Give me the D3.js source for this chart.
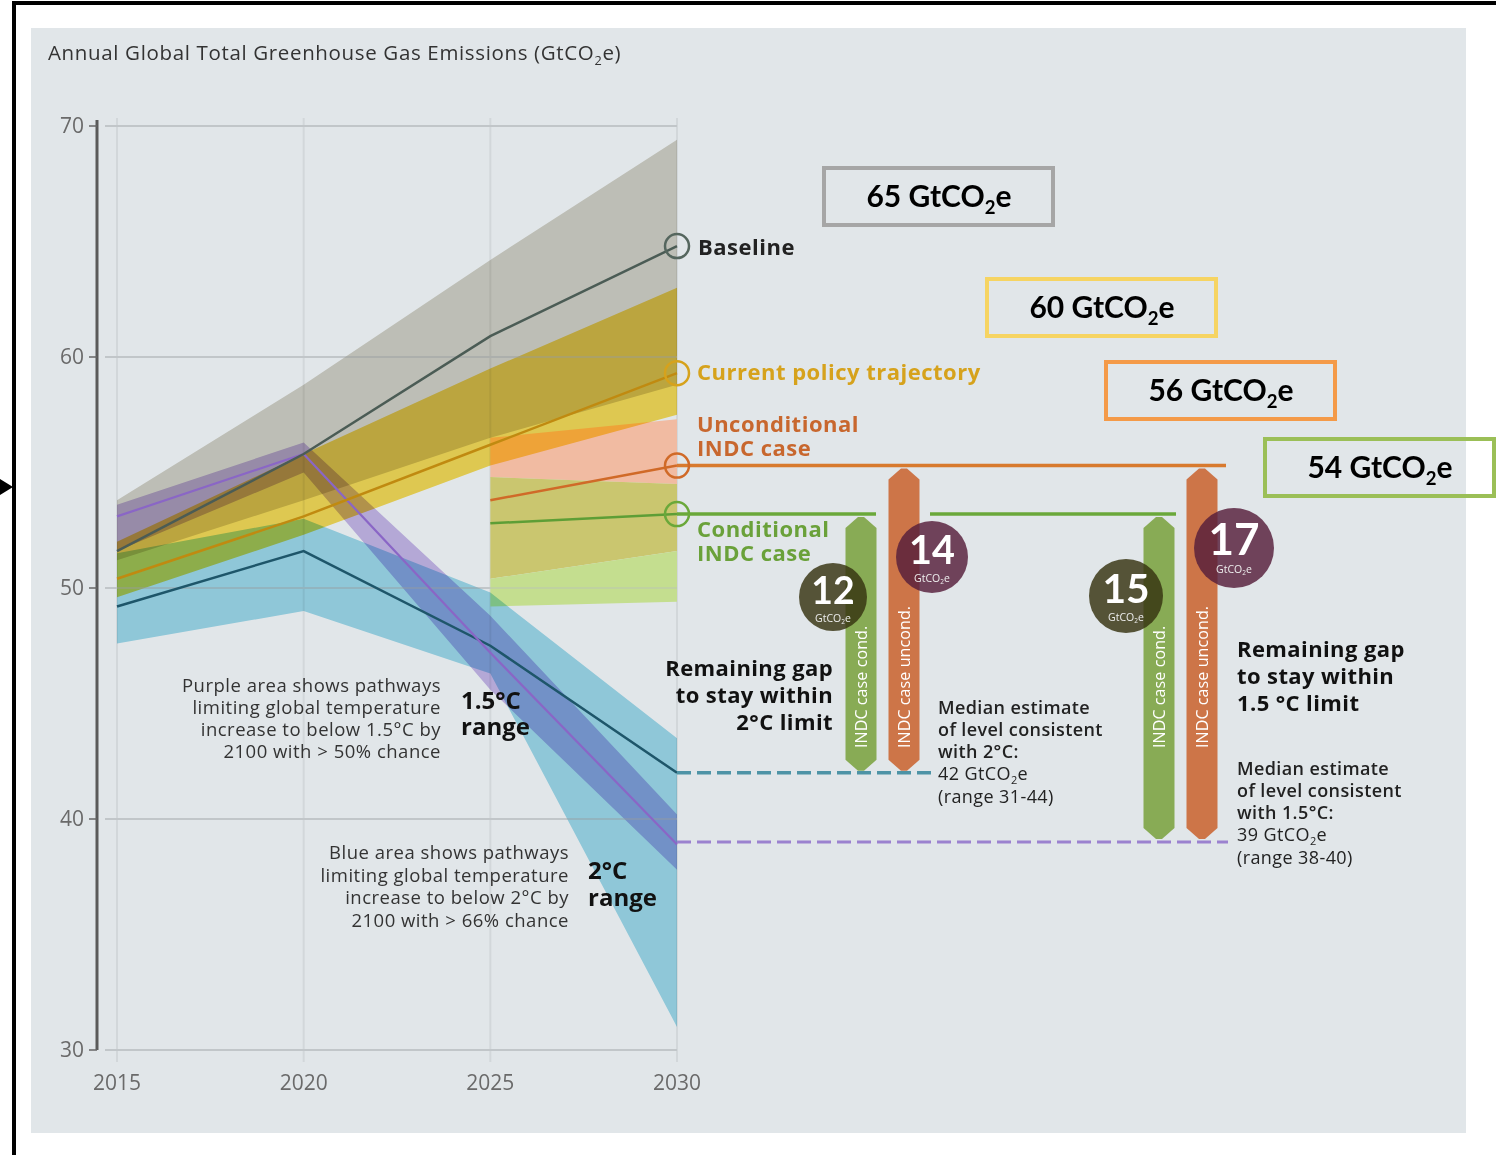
<!DOCTYPE html>
<html><head><meta charset="utf-8">
<script src="https://cdn.jsdelivr.net/npm/d3@7"></script>
<style>
body{margin:0;background:#fff;}
svg{display:block;}
.mult{mix-blend-mode:multiply;}
text{font-family:"Open Sans",Lato,sans-serif;}
</style></head><body>
<svg id="chart" width="1496" height="1155"></svg>
<script>
// ---------- data ----------
const years = [2015, 2020, 2025, 2030];
const yTicks = [30, 40, 50, 60, 70];
const baselineMid = [51.6, 55.8, 60.9, 64.8];
const baselineHi  = [53.8, 58.8, 64.2, 69.4];
const baselineLo  = [51.2, 53.8, 56.5, 58.8];
const policyMid = [50.4, 53.1, 56.2, 59.3];
const policyHi  = [52.0, 55.8, 59.5, 63.0];
const policyLo  = [49.6, 52.3, 55.3, 57.5];
const twoDegMid = [49.2, 51.6, 47.5, 42.0];
const twoDegHi  = [51.5, 53.0, 49.8, 43.5];
const twoDegLo  = [47.6, 49.0, 46.3, 31.0];
const onePtFiveMid = [53.1, 55.8, 47.2, 38.9];
const onePtFiveHi  = [53.6, 56.3, 48.8, 40.2];
const onePtFiveLo  = [51.6, 55.0, 45.6, 37.8];
const indcYears = [2025, 2030];
const uncondMid = [53.8, 55.3];
const uncondHi  = [56.5, 57.3];
const uncondLo  = [50.4, 51.6];
const condMid = [52.8, 53.2];
const condHi  = [54.8, 54.5];
const condLo  = [49.2, 49.4];
const level2C = 42;
const level15 = 39;
const gap2C = [12, 14];     // cond, uncond
const gap15 = [15, 17];     // cond, uncond
const boxValues = [65, 60, 56, 54];

// ---------- setup ----------
const svg = d3.select('#chart');
const x = d3.scaleLinear().domain([2015, 2030]).range([117, 677]);
const y = d3.scaleLinear().domain([30, 70]).range([1050, 126]);

// frame
svg.append('rect').attr('x', 31).attr('y', 28).attr('width', 1435).attr('height', 1105).attr('fill', '#e1e6e9');
svg.append('line').attr('x1', 12).attr('x2', 1496).attr('y1', 3).attr('y2', 3).attr('stroke', '#000').attr('stroke-width', 4);
svg.append('line').attr('x1', 14).attr('x2', 14).attr('y1', 1).attr('y2', 1155).attr('stroke', '#000').attr('stroke-width', 4);
svg.append('polygon').attr('points', '0,479 13,487 0,495').attr('fill', '#000');

// subscript helper
function subText(g, tx, ty, parts, size, attrs) {
  const t = g.append('text').attr('x', tx).attr('y', ty).attr('font-size', size);
  Object.entries(attrs || {}).forEach(([k, v]) => t.attr(k, v));
  let shifted = false;
  parts.forEach(([s, sub]) => {
    const ts = t.append('tspan').text(s);
    if (sub) { ts.attr('font-size', size * 0.62).attr('dy', size * 0.22); shifted = true; }
    else if (shifted) { ts.attr('dy', -size * 0.22); shifted = false; }
  });
  return t;
}
// multi-line helper (one text element, tspan per line)
function multiLine(g, tx, ty, lines, lh, attrs) {
  const t = g.append('text').attr('x', tx).attr('y', ty);
  Object.entries(attrs || {}).forEach(([k, v]) => t.attr(k, v));
  lines.forEach((s, i) => t.append('tspan').attr('x', tx).attr('dy', i === 0 ? 0 : lh).text(s));
  return t;
}

// title
subText(svg, 48, 60, [['Annual Global Total Greenhouse Gas Emissions (GtCO'], ['2', true], ['e)']], 20.5,
  {fill: '#333', 'letter-spacing': 0.65});

// gridlines
const grid = svg.append('g');
grid.selectAll('line.v').data(years).join('line')
  .attr('x1', d => x(d)).attr('x2', d => x(d)).attr('y1', 118).attr('y2', 1062)
  .attr('stroke', '#d2d7da').attr('stroke-width', 2);
grid.selectAll('line.h').data(yTicks).join('line')
  .attr('x1', 105).attr('x2', x(2030)).attr('y1', d => y(d)).attr('y2', d => y(d))
  .attr('stroke', '#c6cbce').attr('stroke-width', 2.2);

// INDC regions (opaque sub-regions)
const ai = (hi, lo) => d3.area().x((d, i) => x(indcYears[i])).y0((d, i) => lo[i]).y1((d, i) => hi[i]);
const uHiY = uncondHi.map(y), uLoY = uncondLo.map(y), cHiY = condHi.map(y), cLoY = condLo.map(y);
svg.append('path').attr('d', ai(uHiY, cHiY)(indcYears)).attr('fill', '#f1bba2');
svg.append('path').attr('d', ai(cHiY, uLoY)(indcYears)).attr('fill', '#cac66f');
svg.append('path').attr('d', ai(uLoY, cLoY)(indcYears)).attr('fill', '#c4de8f');

// multiply bands
const band = (hi, lo) => d3.area().x((d, i) => x(years[i])).y0((d, i) => y(lo[i])).y1((d, i) => y(hi[i]))(years);
svg.append('path').attr('class', 'mult').attr('d', band(twoDegHi, twoDegLo)).attr('fill', '#a2dded');
svg.append('path').attr('class', 'mult').attr('d', band(baselineHi, baselineLo)).attr('fill', '#d7d3c7');
svg.append('path').attr('class', 'mult').attr('d', band(policyHi, policyLo)).attr('fill', '#fcde58');
svg.append('path').attr('class', 'mult').attr('d', band(onePtFiveHi, onePtFiveLo)).attr('fill', '#ccbaeb');

// faint gridline overlay
svg.append('g').selectAll('line').data(yTicks).join('line')
  .attr('x1', 105).attr('x2', x(2030)).attr('y1', d => y(d)).attr('y2', d => y(d))
  .attr('stroke', '#b8bdc0').attr('stroke-opacity', 0.35).attr('stroke-width', 2);

// lines
const ln = vals => d3.line().x((d, i) => x(years[i])).y(d => y(d))(vals);
const lni = vals => d3.line().x((d, i) => x(indcYears[i])).y(d => y(d))(vals);
svg.append('path').attr('d', ln(twoDegMid)).attr('fill', 'none').attr('stroke', '#1e566a').attr('stroke-width', 2.5);
svg.append('path').attr('d', ln(onePtFiveMid)).attr('fill', 'none').attr('stroke', '#8a66c6').attr('stroke-width', 2.2);
svg.append('path').attr('d', ln(baselineMid)).attr('fill', 'none').attr('stroke', '#4b5c55').attr('stroke-width', 2.5);
svg.append('path').attr('d', ln(policyMid)).attr('fill', 'none').attr('stroke', '#c08a10').attr('stroke-width', 2.5);
svg.append('path').attr('d', lni(uncondMid)).attr('fill', 'none').attr('stroke', '#d06a28').attr('stroke-width', 2.5);
svg.append('path').attr('d', lni(condMid)).attr('fill', 'none').attr('stroke', '#5e9e36').attr('stroke-width', 2.5);

// level lines to the right
const x30 = x(2030);
svg.append('line').attr('x1', x30).attr('x2', 1226).attr('y1', y(uncondMid[1])).attr('y2', y(uncondMid[1])).attr('stroke', '#d87a2e').attr('stroke-width', 3.5);
svg.append('line').attr('x1', x30).attr('x2', 876).attr('y1', y(condMid[1])).attr('y2', y(condMid[1])).attr('stroke', '#6aa83a').attr('stroke-width', 3.5);
svg.append('line').attr('x1', 930).attr('x2', 1176).attr('y1', y(condMid[1])).attr('y2', y(condMid[1])).attr('stroke', '#6aa83a').attr('stroke-width', 3.5);
svg.append('line').attr('x1', x30).attr('x2', 932).attr('y1', y(level2C)).attr('y2', y(level2C)).attr('stroke', '#4d93a6').attr('stroke-width', 3.5).attr('stroke-dasharray', '14,6');
svg.append('line').attr('x1', x30).attr('x2', 1228).attr('y1', y(level15)).attr('y2', y(level15)).attr('stroke', '#9b82cf').attr('stroke-width', 3).attr('stroke-dasharray', '14,6');

// end markers
const markers = [[baselineMid[3], '#55665e'], [policyMid[3], '#d6a21c'], [uncondMid[1], '#d06a28'], [condMid[1], '#6aa83a']];
svg.selectAll('circle.mk').data(markers).join('circle')
  .attr('cx', x30).attr('cy', d => y(d[0])).attr('r', 12)
  .attr('fill', 'none').attr('stroke', d => d[1]).attr('stroke-width', 2.5);

// axis
svg.append('line').attr('x1', 97).attr('x2', 97).attr('y1', 120).attr('y2', y(30)).attr('stroke', '#5a5a5a').attr('stroke-width', 3);
svg.selectAll('line.tk').data(yTicks).join('line')
  .attr('x1', 89).attr('x2', 97).attr('y1', d => y(d)).attr('y2', d => y(d)).attr('stroke', '#666').attr('stroke-width', 1.5);
svg.selectAll('text.yl').data(yTicks).join('text')
  .attr('x', 84).attr('y', d => y(d) + 7).attr('text-anchor', 'end')
  .attr('font-size', 21).attr('fill', '#6a6a6a').text(d => d);
svg.selectAll('text.xl').data(years).join('text')
  .attr('x', d => x(d)).attr('y', 1090).attr('text-anchor', 'middle')
  .attr('font-size', 21).attr('fill', '#6a6a6a').text(d => d);

// gap bars
function barPath(cx, top, bottom, w) {
  const h = 11;
  return [[cx - 3, top], [cx + 3, top], [cx + w / 2, top + h], [cx + w / 2, bottom - h], [cx + 3, bottom], [cx - 3, bottom], [cx - w / 2, bottom - h], [cx - w / 2, top + h]]
    .map(p => p.join(',')).join(' ');
}
const bars = [
  {cx: 861, top: y(condMid[1]) + 3, bottom: y(level2C) - 2, color: '#88ab55', label: 'INDC case cond.'},
  {cx: 904, top: y(uncondMid[1]) + 3, bottom: y(level2C) - 2, color: '#cd7548', label: 'INDC case uncond.'},
  {cx: 1159, top: y(condMid[1]) + 3, bottom: y(level15) - 3, color: '#88ab55', label: 'INDC case cond.'},
  {cx: 1202, top: y(uncondMid[1]) + 3, bottom: y(level15) - 3, color: '#cd7548', label: 'INDC case uncond.'}
];
svg.selectAll('polygon.bar').data(bars).join('polygon')
  .attr('points', d => barPath(d.cx, d.top, d.bottom, 31)).attr('fill', d => d.color);
svg.selectAll('text.bl').data(bars).join('text')
  .attr('transform', d => `translate(${d.cx + 6},748) rotate(-90)`)
  .attr('font-size', 16).attr('letter-spacing', 0.1).attr('fill', '#fff').text(d => d.label);

// gap circles
const circles = [
  {cx: 833, cy: 597, r: 34, v: gap2C[0], fill: 'rgb(54,50,16)'},
  {cx: 932, cy: 557, r: 36, v: gap2C[1], fill: 'rgb(85,29,59)'},
  {cx: 1126, cy: 596, r: 37, v: gap15[0], fill: 'rgb(54,50,16)'},
  {cx: 1234, cy: 548, r: 40, v: gap15[1], fill: 'rgb(85,29,59)'}
];
const cg = svg.selectAll('g.gc').data(circles).join('g');
cg.append('circle').attr('cx', d => d.cx).attr('cy', d => d.cy).attr('r', d => d.r).attr('fill', d => d.fill).attr('fill-opacity', 0.82);
cg.append('text').attr('x', d => d.cx).attr('y', d => d.cy + 7).attr('text-anchor', 'middle')
  .attr('font-size', d => d.r * 1.1).attr('font-weight', 700).attr('fill', '#fff')
  .style('font-family', 'Lato,sans-serif').text(d => d.v);
cg.each(function (d) {
  subText(d3.select(this), d.cx, d.cy + 25, [['GtCO'], ['2', true], ['e']], 10.5, {'text-anchor': 'middle', fill: '#eee'});
});

// series labels
const lab = svg.append('g').attr('font-weight', 700).attr('font-size', 22).attr('letter-spacing', 0.5);
lab.append('text').attr('x', 698).attr('y', 255).attr('fill', '#222').text('Baseline');
lab.append('text').attr('x', 697).attr('y', 380).attr('fill', '#d6a21c').text('Current policy trajectory');
multiLine(lab, 697, 432, ['Unconditional', 'INDC case'], 24, {fill: '#c8672e'});
multiLine(lab, 697, 537, ['Conditional', 'INDC case'], 24, {fill: '#6aa13a'});

// remaining gap labels
const rg = svg.append('g').attr('font-weight', 700).attr('font-size', 22).attr('letter-spacing', 0.4).attr('fill', '#111');
multiLine(rg, 833, 676, ['Remaining gap', 'to stay within', '2°C limit'], 27, {'text-anchor': 'end'});
multiLine(rg, 1237, 657, ['Remaining gap', 'to stay within', '1.5 °C limit'], 27, {});

// median estimate notes
function median(x0, y0, deg, val, range) {
  const t = svg.append('text').attr('x', x0).attr('y', y0).attr('fill', '#222')
    .attr('letter-spacing', 0.4).attr('font-size', 18);
  ['Median estimate', 'of level consistent', `with ${deg}:`].forEach((s, i) =>
    t.append('tspan').attr('x', x0).attr('dy', i === 0 ? 0 : 22).attr('font-weight', 600).text(s));
  t.append('tspan').attr('x', x0).attr('dy', 22).text(`${val} GtCO`);
  t.append('tspan').attr('dy', 4).attr('font-size', 11).text('2');
  t.append('tspan').attr('dy', -4).text('e');
  t.append('tspan').attr('x', x0).attr('dy', 23).text(`(range ${range})`);
}
median(938, 714, '2°C', level2C, '31-44');
median(1237, 775, '1.5°C', level15, '38-40');

// area notes
const note = svg.append('g').attr('fill', '#333').attr('font-size', 18.5).attr('letter-spacing', 0.5);
multiLine(note, 441, 692, ['Purple area shows pathways', 'limiting global temperature', 'increase to below 1.5°C by', '2100 with > 50% chance'], 22, {'text-anchor': 'end'});
multiLine(note, 569, 859, ['Blue area shows pathways', 'limiting global temperature', 'increase to below 2°C by', '2100 with > 66% chance'], 22.7, {'text-anchor': 'end'});
const rl = svg.append('g').attr('fill', '#111').attr('font-size', 24).attr('font-weight', 700);
multiLine(rl, 461, 709, ['1.5°C', 'range'], 26, {});
multiLine(rl, 588, 879, ['2°C', 'range'], 27, {});

// value boxes
const boxes = [
  {x0: 824, y0: 168, stroke: '#a6a6a6'},
  {x0: 987, y0: 279, stroke: '#f6d462'},
  {x0: 1106, y0: 362, stroke: '#f49a48'},
  {x0: 1265, y0: 439, stroke: '#9bbf57'}
];
boxes.forEach((b, i) => {
  svg.append('rect').attr('x', b.x0).attr('y', b.y0).attr('width', 229).attr('height', 57)
    .attr('fill', 'none').attr('stroke', b.stroke).attr('stroke-width', 4);
  subText(svg, b.x0 + 115, b.y0 + 39, [[`${boxValues[i]} GtCO`], ['2', true], ['e']], 30,
    {'text-anchor': 'middle', 'font-weight': 700, fill: '#000', style: 'font-family:Lato,sans-serif'});
});
</script>
</body></html>
